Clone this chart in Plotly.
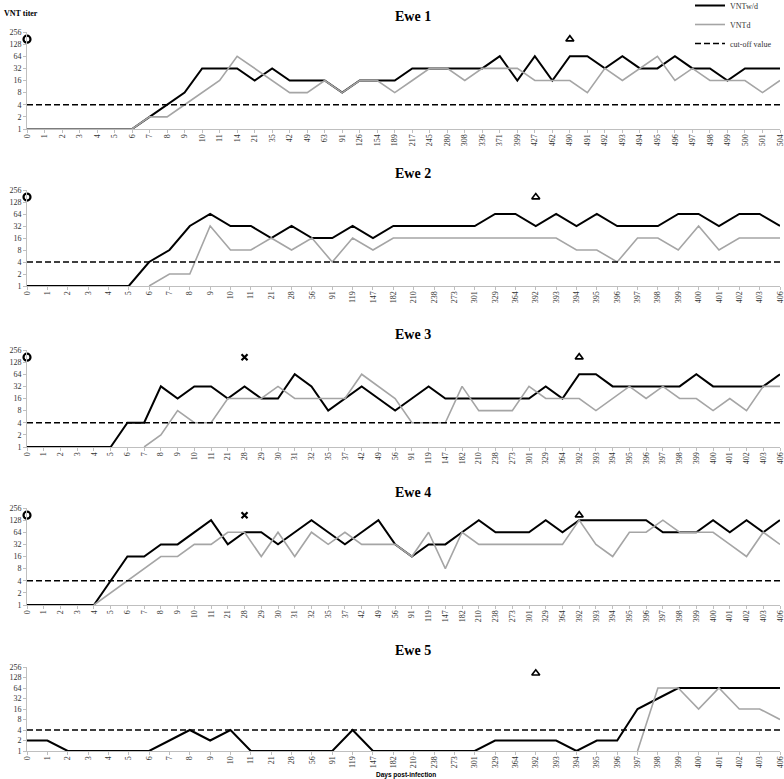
import math
import plotly.graph_objects as go

# ---------------- data ----------------
days_ewe1 = [0, 1, 2, 3, 4, 5, 6, 7, 8, 9, 10, 11, 14, 21, 35, 42, 49, 63, 91, 126, 154, 189,
             217, 245, 280, 308, 336, 371, 399, 427, 462, 490, 491, 492, 493, 494, 495, 496,
             497, 498, 499, 500, 501, 504]
vnt_wd_ewe1 = [1, 1, 1, 1, 1, 1, 1, 2, 4, 8, 32, 32, 32, 16, 32, 16, 16, 16, 8, 16, 16, 16,
               32, 32, 32, 32, 32, 64, 16, 64, 16, 64, 64, 32, 64, 32, 32, 64,
               32, 32, 16, 32, 32, 32]
vnt_d_ewe1 = [1, 1, 1, 1, 1, 1, 1, 2, 2, 4, 8, 16, 64, 32, 16, 8, 8, 16, 8, 16, 16, 8,
              16, 32, 32, 16, 32, 32, 32, 16, 16, 16, 8, 32, 16, 32, 64, 16,
              32, 16, 16, 16, 8, 16]

days_ewe2 = [0, 1, 2, 3, 4, 5, 6, 7, 8, 9, 10, 11, 21, 28, 56, 91, 119, 147, 182, 210, 238,
             273, 301, 329, 364, 392, 393, 394, 395, 396, 397, 398, 399, 400, 401, 402, 403, 406]
vnt_wd_ewe2 = [1, 1, 1, 1, 1, 1, 4, 8, 32, 64, 32, 32, 16, 32, 16, 16, 32, 16, 32, 32, 32,
               32, 32, 64, 64, 32, 64, 32, 64, 32, 32, 32, 64, 64, 32, 64, 64, 32]
vnt_d_ewe2 = [None, None, None, None, None, None, 1, 2, 2, 32, 8, 8, 16, 8, 16, 4, 16, 8, 16,
              16, 16, 16, 16, 16, 16, 16, 16, 8, 8, 4, 16, 16, 8, 32, 8, 16, 16, 16]

days_ewe3 = [0, 1, 2, 3, 4, 5, 6, 7, 8, 9, 10, 11, 21, 28, 29, 30, 31, 32, 35, 37, 42, 49, 56,
             91, 119, 147, 182, 210, 238, 273, 301, 329, 364, 392, 393, 394, 395, 396, 397,
             398, 399, 400, 401, 402, 403, 406]
vnt_wd_ewe3 = [1, 1, 1, 1, 1, 1, 4, 4, 32, 16, 32, 32, 16, 32, 16, 16, 64, 32, 8, 16, 32, 16, 8,
               16, 32, 16, 16, 16, 16, 16, 16, 32, 16, 64, 64, 32, 32, 32, 32,
               32, 64, 32, 32, 32, 32, 64]
vnt_d_ewe3 = [None, None, None, None, None, None, None, 1, 2, 8, 4, 4, 16, 16, 16, 32, 16, 16,
              16, 16, 64, 32, 16, 4, 4, 4, 32, 8, 8, 8, 32, 16, 16, 16, 8, 16, 32, 16, 32,
              16, 16, 8, 16, 8, 32, 32]

days_ewe4 = [0, 1, 2, 3, 4, 5, 6, 7, 8, 9, 10, 11, 21, 28, 29, 30, 31, 32, 35, 37, 42, 49, 56,
             91, 119, 147, 182, 210, 238, 273, 301, 329, 364, 392, 393, 394, 395, 396, 397,
             398, 399, 400, 401, 402, 403, 406]
vnt_wd_ewe4 = [1, 1, 1, 1, 1, 4, 16, 16, 32, 32, 64, 128, 32, 64, 64, 32, 64, 128, 64, 32, 64,
               128, 32, 16, 32, 32, 64, 128, 64, 64, 64, 128, 64, 128, 128, 128, 128, 128, 64,
               64, 64, 128, 64, 128, 64, 128]
vnt_d_ewe4 = [None, None, None, None, 1, 2, 4, 8, 16, 16, 32, 32, 64, 64, 16, 64, 16, 64, 32,
              64, 32, 32, 32, 16, 64, 8, 64, 32, 32, 32, 32, 32, 32, 128, 32, 16, 64, 64, 128,
              64, 64, 64, 32, 16, 64, 32]

days_ewe5 = [0, 1, 2, 3, 4, 5, 6, 7, 8, 9, 10, 11, 21, 28, 56, 91, 119, 147, 182, 210, 238,
             273, 301, 329, 364, 392, 393, 394, 395, 396, 397, 398, 399, 400, 401, 402, 403, 406]
vnt_wd_ewe5 = [2, 2, 1, 1, 1, 1, 1, 2, 4, 2, 4, 1, 1, 1, 1, 1, 4, 1, 1, 1, 1,
               1, 1, 2, 2, 2, 2, 1, 2, 2, 16, 32, 64, 64, 64, 64, 64, 64]
vnt_d_ewe5 = [None] * 30 + [1, 64, 64, 16, 64, 16, 16, 8]

cutoff_value = 4
event_marker_level = 170
# event markers per ewe: (day, kind)
events_ewe1 = [(0, "circle"), (490, "triangle")]
events_ewe2 = [(0, "circle"), (392, "triangle")]
events_ewe3 = [(0, "circle"), (28, "cross"), (392, "triangle")]
events_ewe4 = [(0, "circle"), (28, "cross"), (392, "triangle")]
events_ewe5 = [(392, "triangle")]

y_ticks = [1, 2, 4, 8, 16, 32, 64, 128, 256]
panel_titles = ["Ewe 1", "Ewe 2", "Ewe 3", "Ewe 4", "Ewe 5"]

# ---------------- layout helpers ----------------
W, H = 784, 779
panels = [
    (days_ewe1, vnt_wd_ewe1, vnt_d_ewe1, events_ewe1),
    (days_ewe2, vnt_wd_ewe2, vnt_d_ewe2, events_ewe2),
    (days_ewe3, vnt_wd_ewe3, vnt_d_ewe3, events_ewe3),
    (days_ewe4, vnt_wd_ewe4, vnt_d_ewe4, events_ewe4),
    (days_ewe5, vnt_wd_ewe5, vnt_d_ewe5, events_ewe5),
]
# plot-area pixel bounds (top = value 256, bottom = value 1)
py_bounds = [(32, 129), (190, 286), (350, 447), (508, 605), (667, 751)]
title_py = [17, 173, 334, 492, 650]
x0_px, x1_px = 27, 780

symbol_map = {"circle": ("circle-open", 7, 2.2),
              "triangle": ("triangle-up-open", 7, 1.6),
              "cross": ("x-thin-open", 6, 2.2)}

serif = "Liberation Serif, Times New Roman, serif"
axis_col = "#bfbfbf"
gray = "#a5a5a5"

fig = go.Figure()
layout = dict(width=W, height=H, margin=dict(l=0, r=0, t=0, b=0, pad=0, autoexpand=False),
              paper_bgcolor="white", plot_bgcolor="white", showlegend=True,
              font=dict(family=serif, size=8, color="#333333"))
annotations = []

for i, (days, wd, d, events) in enumerate(panels):
    n = i + 1
    xa = "x" if n == 1 else f"x{n}"
    ya = "y" if n == 1 else f"y{n}"
    cats = [str(v) for v in days]
    first = (n == 1)
    fig.add_trace(go.Scatter(x=cats, y=wd, mode="lines", name="VNTw/d",
                             line=dict(color="black", width=2), xaxis=xa, yaxis=ya,
                             legendgroup="wd", showlegend=first, connectgaps=False))
    fig.add_trace(go.Scatter(x=cats, y=d, mode="lines", name="VNTd",
                             line=dict(color=gray, width=1.6), xaxis=xa, yaxis=ya,
                             legendgroup="d", showlegend=first, connectgaps=False))
    fig.add_trace(go.Scatter(x=cats, y=[cutoff_value] * len(cats), mode="lines",
                             name="cut-off value",
                             line=dict(color="black", width=1.5, dash="6px,3px"),
                             xaxis=xa, yaxis=ya, legendgroup="cut", showlegend=first))
    for day, kind in events:
        sym, size, lw = symbol_map[kind]
        fig.add_trace(go.Scatter(x=[str(day)], y=[event_marker_level], mode="markers",
                                 marker=dict(symbol=sym, size=size, color="black",
                                             line=dict(width=lw, color="black")),
                                 xaxis=xa, yaxis=ya, showlegend=False, cliponaxis=False,
                                 hoverinfo="skip"))
    top, bot = py_bounds[i]
    layout["xaxis" if n == 1 else f"xaxis{n}"] = dict(
        type="category", categoryorder="array", categoryarray=cats,
        domain=[x0_px / W, x1_px / W], anchor=ya,
        range=[0, len(cats) - 1], tickmode="array", tickvals=cats, ticktext=cats,
        tickangle=-90, tickfont=dict(family=serif, size=8, color="#333333"),
        showline=True, linecolor=axis_col, linewidth=1, ticks="outside", ticklen=3,
        ticklabelstandoff=-2,
        tickcolor=axis_col, showgrid=False, zeroline=False, fixedrange=True)
    layout["yaxis" if n == 1 else f"yaxis{n}"] = dict(
        type="log", domain=[1 - bot / H, 1 - top / H], anchor=xa,
        range=[0, math.log10(256)], tickmode="array", tickvals=y_ticks,
        ticktext=[str(v) for v in y_ticks], tickfont=dict(family=serif, size=8, color="#333333"),
        showline=True, linecolor=axis_col, linewidth=1, ticks="outside", ticklen=3,
        tickcolor=axis_col, showgrid=False, zeroline=False, fixedrange=True)
    annotations.append(dict(text=f"<b>{panel_titles[i]}</b>", x=413 / W, y=1 - title_py[i] / H,
                            xref="paper", yref="paper", xanchor="center", yanchor="middle",
                            showarrow=False, font=dict(family=serif, size=14, color="black")))

annotations.append(dict(text="<b>VNT titer</b>", x=2 / W, y=1 - 13 / H, xref="paper", yref="paper",
                        xanchor="left", yanchor="middle", showarrow=False,
                        font=dict(family=serif, size=8, color="black")))
annotations.append(dict(text="<b>Days post-infection</b>", x=406 / W, y=1 - 775 / H,
                        xref="paper", yref="paper", xanchor="center", yanchor="middle",
                        showarrow=False,
                        font=dict(family="Liberation Sans, Arial, sans-serif", size=6.5, color="black")))

layout["annotations"] = annotations
layout["legend"] = dict(x=690 / W, y=1 + 9 / H, xanchor="left", yanchor="top",
                        font=dict(family=serif, size=8, color="#333333"),
                        bgcolor="rgba(0,0,0,0)", tracegroupgap=0, itemwidth=30)
fig.update_layout(**layout)
fig.write_html("out.html", config={"displayModeBar": False},
               post_script="document.body.style.margin='0';document.body.style.overflow='hidden';")
